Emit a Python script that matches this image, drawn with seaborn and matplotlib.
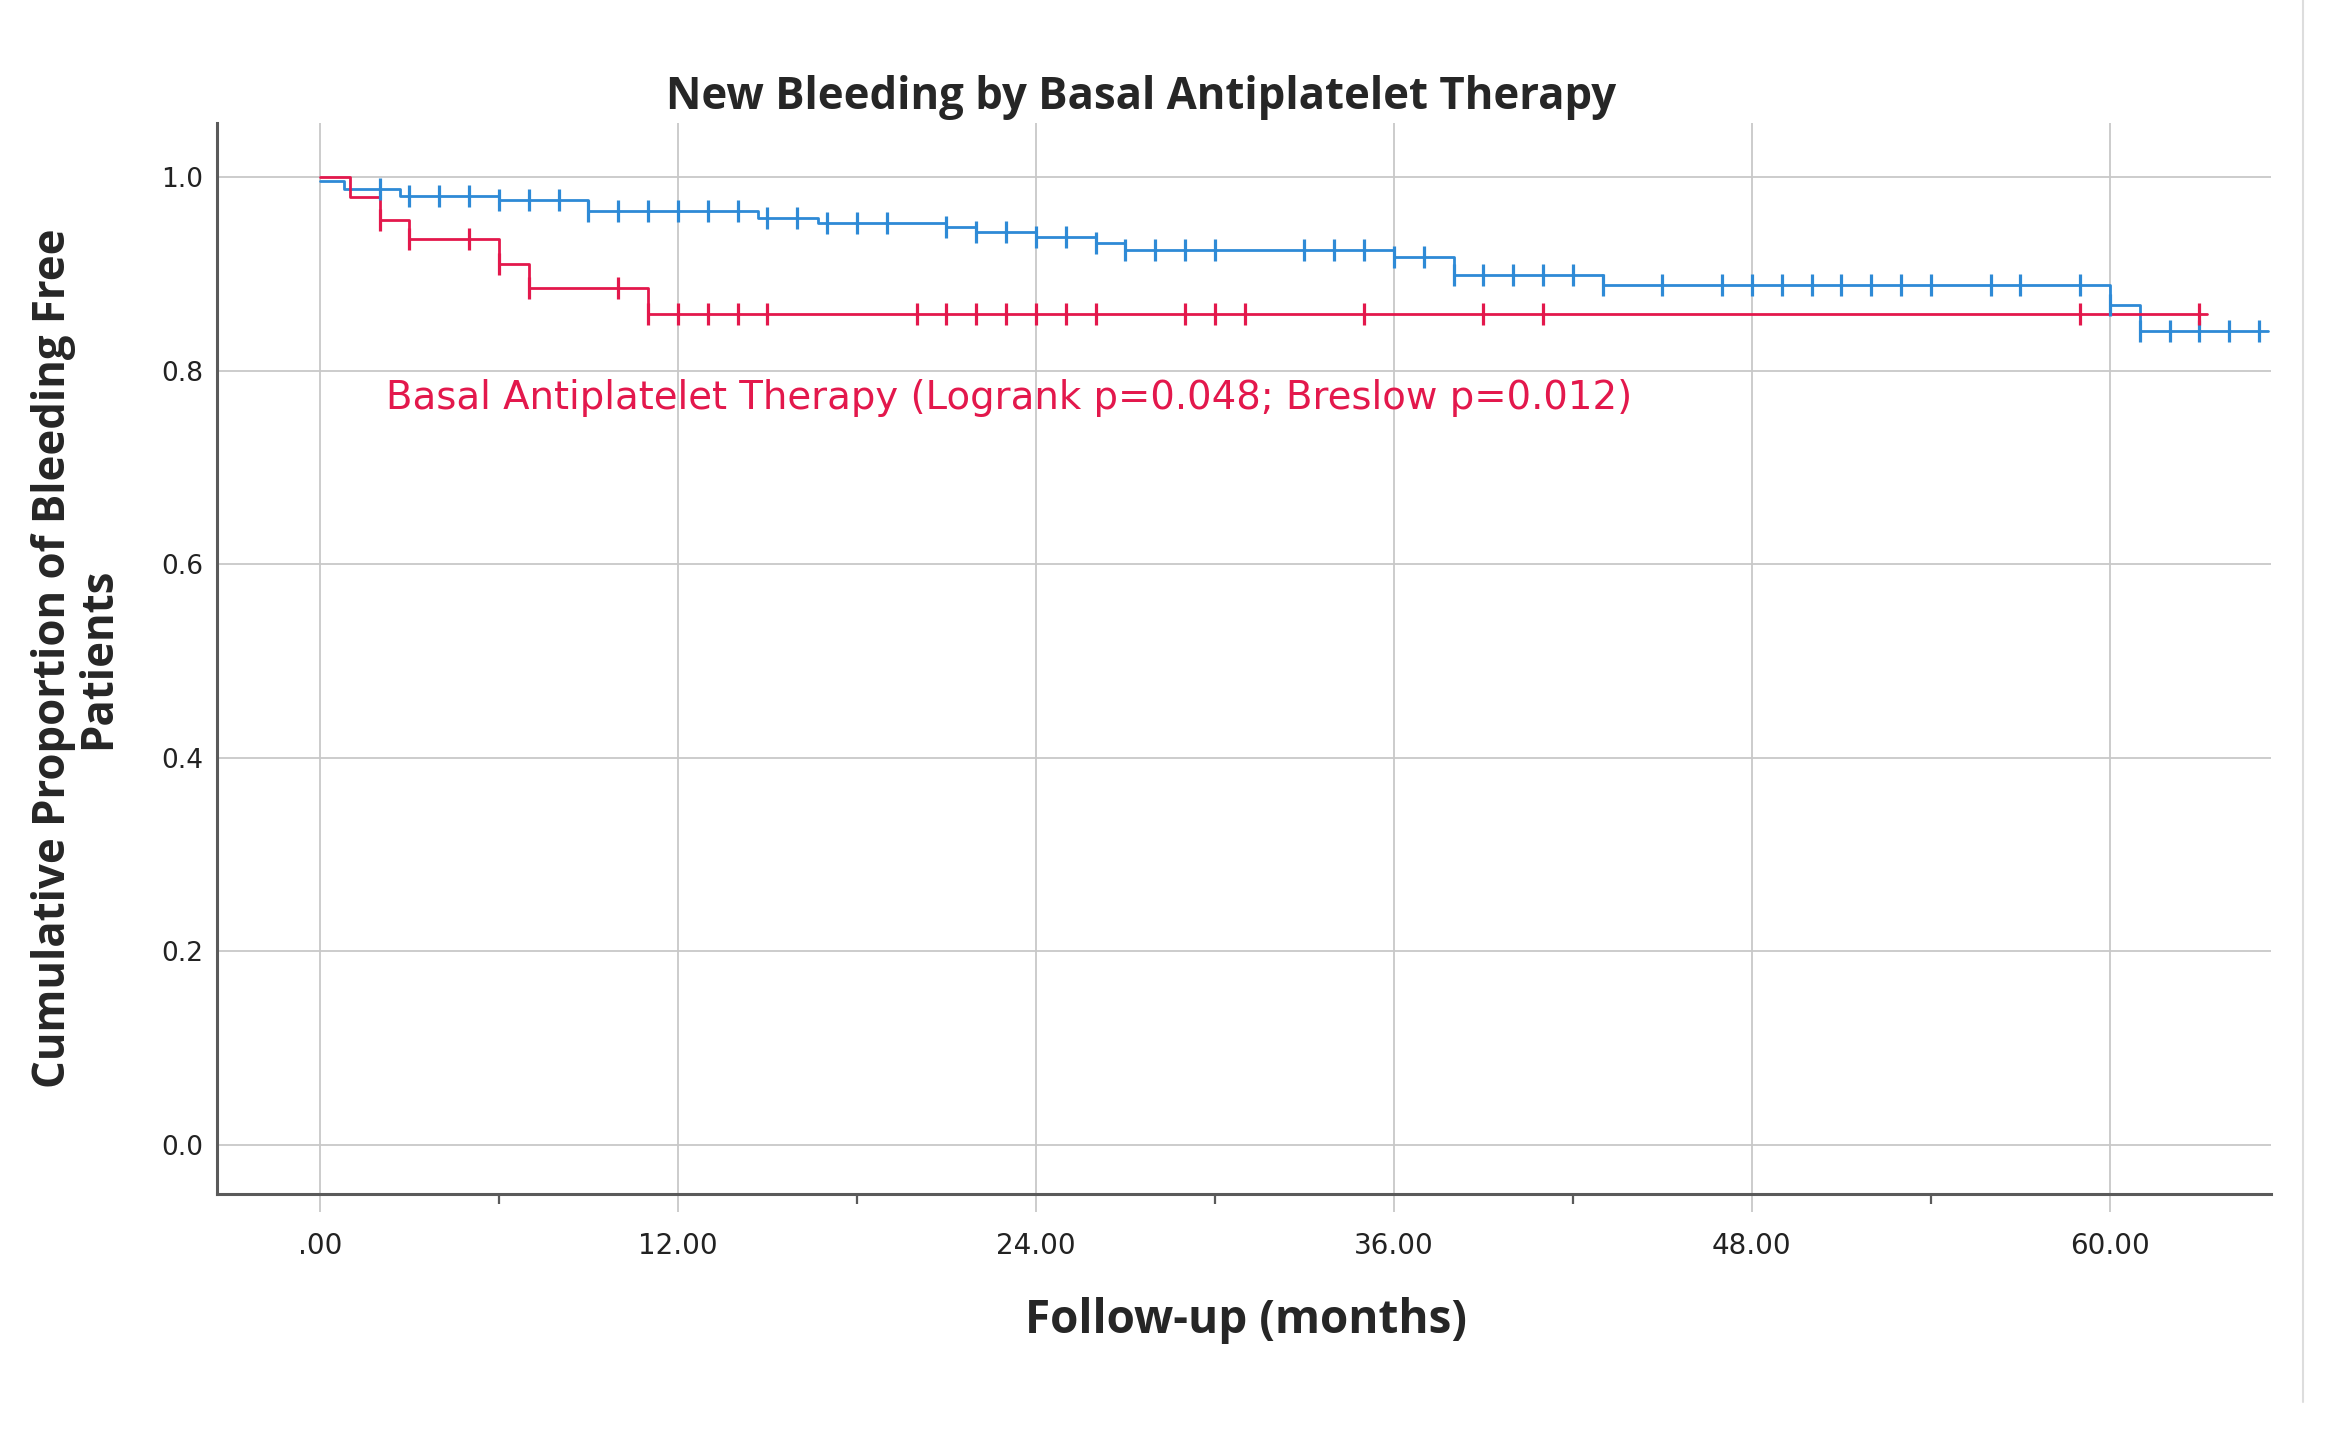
import matplotlib
matplotlib.use("Agg")
import matplotlib.pyplot as plt
from matplotlib.lines import Line2D
from matplotlib.ticker import FixedLocator, FuncFormatter
import seaborn as sns
import numpy as np

# Kaplan-Meier steps (months, survival after the drop)
red_times = [0, 1, 2, 3, 6, 7, 11]
red_surv = [1.0, 0.979, 0.956, 0.9355, 0.910, 0.885, 0.858]
red_end = 63.25
red_censored = [2, 3, 5, 6, 7, 10, 11, 12, 13, 14, 15, 20, 21, 22, 23, 24, 25, 26,
                29, 30, 31, 35, 39, 41, 59, 63]

blue_times = [0, 0.8, 2.7, 6, 9, 14.7, 16.7, 21, 22, 24, 26, 27, 36, 38, 43, 60, 61]
blue_surv = [0.996, 0.988, 0.980, 0.976, 0.965, 0.958, 0.953, 0.9487, 0.9435, 0.938,
             0.932, 0.925, 0.917, 0.899, 0.888, 0.868, 0.841]
blue_end = 65.3
blue_censored = [2, 3, 4, 5, 6, 7, 8, 9, 10, 11, 12, 13, 14, 15, 16, 17, 18, 19, 21, 22,
                 23, 24, 25, 26, 27, 28, 29, 30, 33, 34, 35, 36, 37, 38, 39, 40, 41, 42,
                 43, 45, 47, 48, 49, 50, 51, 52, 53, 54, 56, 57, 59, 60, 61, 62, 63, 64, 65]

x_ticks = [0, 12, 24, 36, 48, 60]
x_minor = [6, 18, 30, 42, 54]
y_ticks = [0.0, 0.2, 0.4, 0.6, 0.8, 1.0]

title = "New Bleeding by Basal Antiplatelet Therapy"
xlabel = "Follow-up (months)"
ylabel = "Cumulative Proportion of Bleeding Free\nPatients"
note = "Basal Antiplatelet Therapy (Logrank p=0.048; Breslow p=0.012)"

RED = "#E3184C"
BLUE = "#2E8AD6"
GRID = "#C8C8C8"
SPINE = "#5A5A5A"


def step_xy(times, surv, end):
    x = np.append(np.asarray(times, float), end)
    y = np.append(np.asarray(surv, float), surv[-1])
    return x, y


def censor_y(times, surv, cens):
    idx = np.searchsorted(np.asarray(times, float), np.asarray(cens, float), side="right") - 1
    return np.asarray(surv)[idx]


sns.set_theme(style="white")
plt.rcParams["font.family"] = ["DejaVu Sans"]

fig = plt.figure(figsize=(23.31, 14.43), dpi=100)
ax = fig.add_axes([217 / 2331, 1 - 1194 / 1443, (2271 - 217) / 2331, (1194 - 123) / 1443])

ax.grid(True, which="major", color=GRID, linewidth=1.3)
ax.set_axisbelow(True)

for times, surv, end, cens, col in [(blue_times, blue_surv, blue_end, blue_censored, BLUE),
                                    (red_times, red_surv, red_end, red_censored, RED)]:
    sx, sy = step_xy(times, surv, end)
    sns.lineplot(x=sx, y=sy, ax=ax, color=col, linewidth=2.0, drawstyle="steps-post",
                 estimator=None, sort=False)
    sns.scatterplot(x=np.asarray(cens, float), y=censor_y(times, surv, cens), ax=ax,
                    marker="|", s=16 ** 2, linewidth=2.3, color=col, zorder=3)

ax.set_xlim(-3.45, 65.4)
ax.set_ylim(-0.0506, 1.0558)

ax.xaxis.set_major_locator(FixedLocator(x_ticks))
ax.xaxis.set_minor_locator(FixedLocator(x_minor))
ax.xaxis.set_major_formatter(FuncFormatter(lambda v, p: ("%.2f" % v).lstrip("0") if v == 0 else "%.2f" % v))
ax.yaxis.set_major_locator(FixedLocator(y_ticks))
ax.yaxis.set_major_formatter(FuncFormatter(lambda v, p: "%.1f" % v))

ax.tick_params(axis="x", which="major", direction="out", length=13, width=1.3, color=GRID,
               pad=14, labelsize=20, labelcolor="#222222", bottom=True)
ax.tick_params(axis="x", which="minor", direction="out", length=7, width=1.6, color=SPINE,
               bottom=True)
ax.tick_params(axis="y", which="major", length=0, pad=10, labelsize=19, labelcolor="#222222")

for side in ["top", "right"]:
    ax.spines[side].set_visible(False)
for side in ["left", "bottom"]:
    ax.spines[side].set_color(SPINE)
    ax.spines[side].set_linewidth(2.2)

ax.text(2.2, 0.772, note, color=RED, fontsize=27.8, ha="left", va="center")

fig.text(1141 / 2331, 1 - 97 / 1443, title, ha="center", va="center", fontsize=31.5,
         fontweight="bold", family=["Open Sans", "DejaVu Sans"])
fig.text(1246 / 2331, 1 - 1320 / 1443, xlabel, ha="center", va="center", fontsize=33,
         fontweight="bold", family=["Open Sans", "DejaVu Sans"])
fig.text(76 / 2331, 1 - 658 / 1443, ylabel, ha="center", va="center", rotation=90,
         fontsize=31.5, fontweight="bold", linespacing=1.0, multialignment="center",
         family=["Open Sans", "DejaVu Sans"])

# thin frame line on the right edge of the exported image
fig.add_artist(Line2D([2303 / 2331] * 2, [1 - 1402 / 1443, 1.0], color="#DDDDDD",
                      linewidth=1.5, transform=fig.transFigure))

fig.savefig("out.png", dpi=100, facecolor="white")
